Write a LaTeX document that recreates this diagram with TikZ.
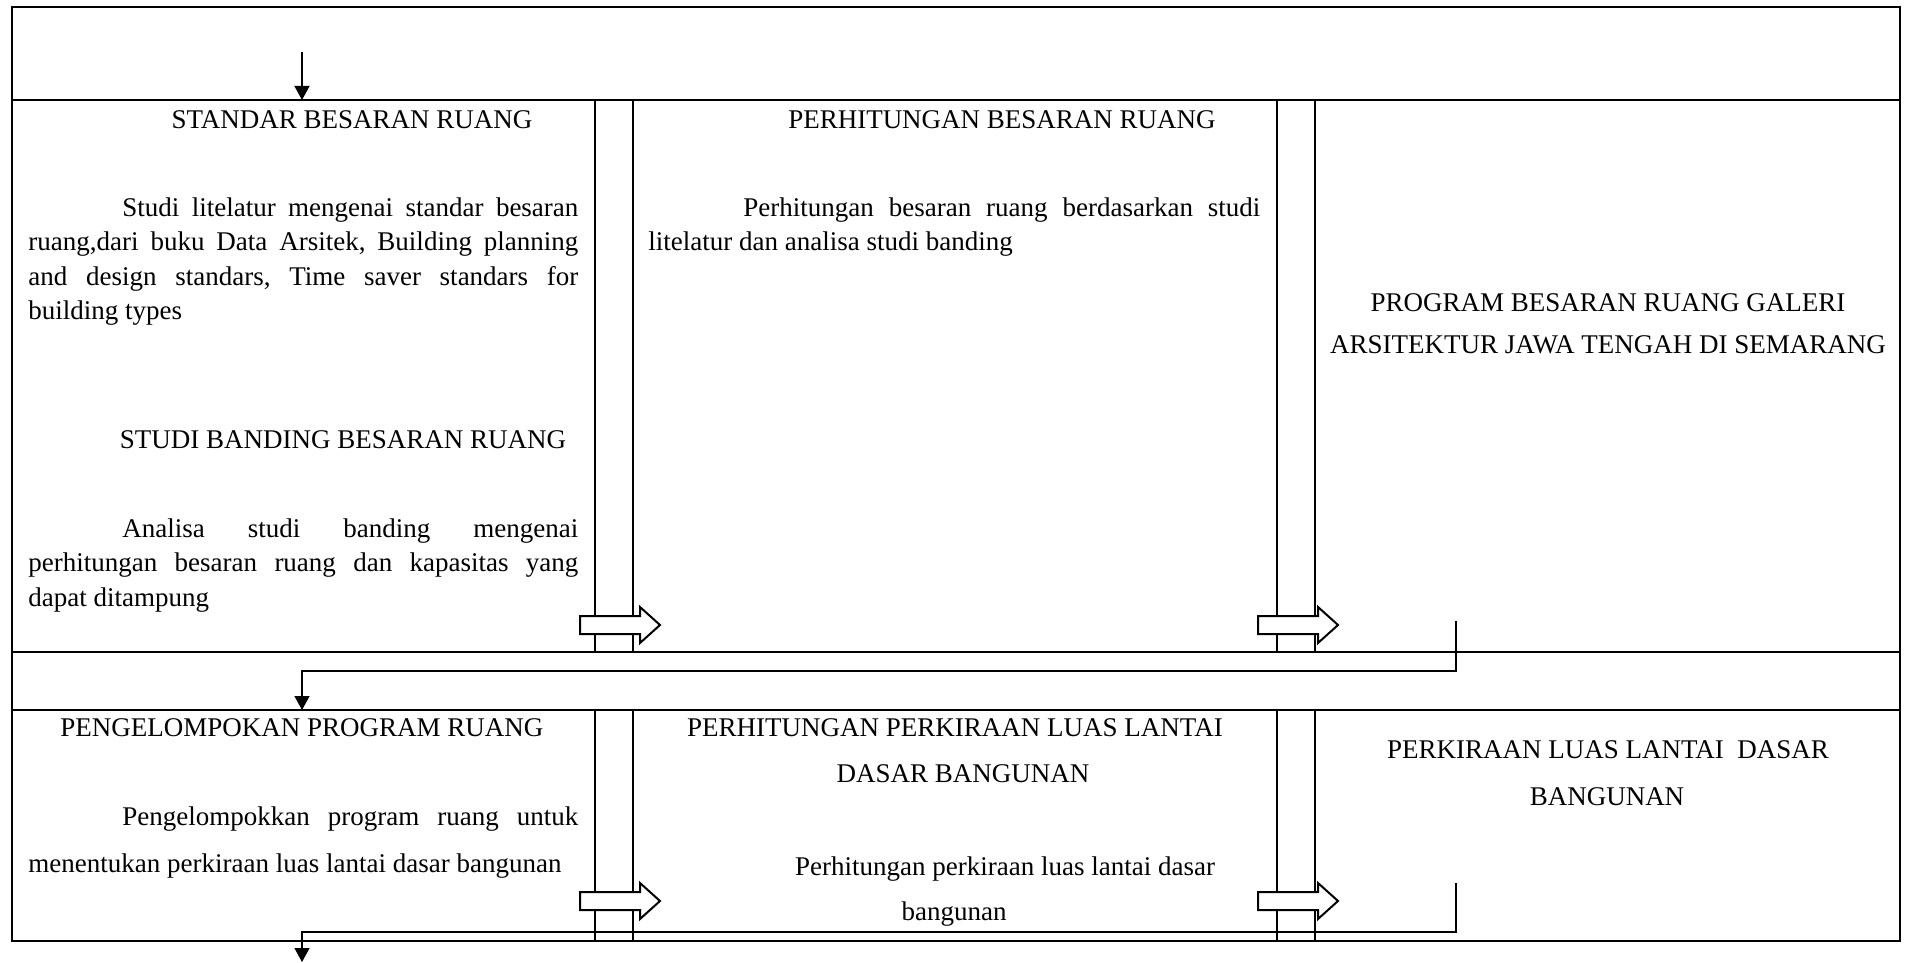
\documentclass[tikz,border=0pt]{standalone}
\usepackage{fontspec}
\setmainfont{Liberation Serif}
\usetikzlibrary{arrows.meta}
\begin{document}
\begin{tikzpicture}[x=0.5pt,y=-0.5pt,
  frame/.style={line width=1pt},
  conn/.style={line width=0.65pt},
  tip/.style={-{Triangle[length=7pt,width=7.5pt]}},
  hollow/.style={line width=1pt, fill=white, line join=miter},
  txt/.style={font=\fontsize{13.5}{16}\selectfont, inner sep=0pt, anchor=base west},
  ctxt/.style={font=\fontsize{13.5}{16}\selectfont, inner sep=0pt, anchor=base},
  blockarrow/.pic={\draw[hollow] (0,-9) -- (60,-9) -- (60,-18) -- (80,0) -- (60,18) -- (60,9) -- (0,9) -- cycle;}
]
\useasboundingbox (0,0) rectangle (1905,963);
% frame
\draw[frame] (12,7) rectangle (1900,941);
\draw[frame] (12,100) -- (1900,100);
\draw[frame] (12,652) -- (1900,652);
\draw[frame] (12,710) -- (1900,710);
\foreach \x in {595,633,1277,1315}{
  \draw[frame] (\x,100) -- (\x,652);
  \draw[frame] (\x,710) -- (\x,941);
}
% block arrows
\pic at (580,625) {blockarrow};
\pic at (1258,625) {blockarrow};
\pic at (580,901) {blockarrow};
\pic at (1258,901) {blockarrow};
% connectors
\coordinate (s0) at (302,52);
\coordinate (s1) at (302,100);
\draw[conn,tip] (s0) -- (s1);
\coordinate (c1a) at (1456,621);
\coordinate (c1b) at (1456,671);
\coordinate (c1c) at (302,671);
\coordinate (c1d) at (302,710);
\draw[conn,tip] (c1a) -- (c1b) -- (c1c) -- (c1d);
\coordinate (c2a) at (1456,883);
\coordinate (c2b) at (1456,932);
\coordinate (c2c) at (302,932);
\coordinate (c2d) at (302,962);
\draw[conn,tip] (c2a) -- (c2b) -- (c2c) -- (c2d);
% row 1, column 1
\node[ctxt] (t1) at (352,128) {STANDAR BESARAN RUANG};
\node[txt] (p1a) at (122,216) {\hbox to 228pt{Studi\hfill litelatur\hfill mengenai\hfill standar\hfill besaran}};
\node[txt] (p1b) at (28,250.5) {\hbox to 275pt{ruang,dari\hfill buku\hfill Data\hfill Arsitek,\hfill Building\hfill planning}};
\node[txt] (p1c) at (28,285) {\hbox to 275pt{and\hfill design\hfill standars,\hfill Time\hfill saver\hfill standars\hfill for}};
\node[txt] (p1d) at (28,319.5) {building types};
\node[ctxt] (t2) at (343,448) {STUDI BANDING BESARAN RUANG};
\node[txt] (p2a) at (122,537) {\hbox to 228pt{Analisa\hfill studi\hfill banding\hfill mengenai}};
\node[txt] (p2b) at (28,571.5) {\hbox to 275pt{perhitungan\hfill besaran\hfill ruang\hfill dan\hfill kapasitas\hfill yang}};
\node[txt] (p2c) at (28,606) {dapat ditampung};
% row 1, column 2
\node[ctxt] (t3) at (1002,128) {PERHITUNGAN BESARAN RUANG};
\node[txt] (p3a) at (743,216) {\hbox to 258.5pt{Perhitungan\hfill besaran\hfill ruang\hfill berdasarkan\hfill studi}};
\node[txt] (p3b) at (648,250.5) {litelatur dan analisa studi banding};
% row 1, column 3
\node[ctxt] (t4a) at (1608,311) {PROGRAM BESARAN RUANG GALERI};
\node[ctxt] (t4b) at (1608,353.5) {ARSITEKTUR JAWA TENGAH DI SEMARANG};
% row 2, column 1
\node[ctxt] (t5) at (302,736.5) {PENGELOMPOKAN PROGRAM RUANG};
\node[txt] (p5a) at (122,825) {\hbox to 228pt{Pengelompokkan\hfill program\hfill ruang\hfill untuk}};
\node[txt] (p5b) at (28,872) {menentukan perkiraan luas lantai dasar bangunan};
% row 2, column 2
\node[ctxt] (t6a) at (955,736.5) {PERHITUNGAN PERKIRAAN LUAS LANTAI};
\node[ctxt] (t6b) at (963,782) {DASAR BANGUNAN};
\node[ctxt] (p6a) at (1005,875) {Perhitungan perkiraan luas lantai dasar};
\node[ctxt] (p6b) at (954,920) {bangunan};
% row 2, column 3
\node[ctxt] (t7a) at (1608,758) {PERKIRAAN LUAS LANTAI\ \ DASAR};
\node[ctxt] (t7b) at (1607,805) {BANGUNAN};
\end{tikzpicture}
\end{document}
